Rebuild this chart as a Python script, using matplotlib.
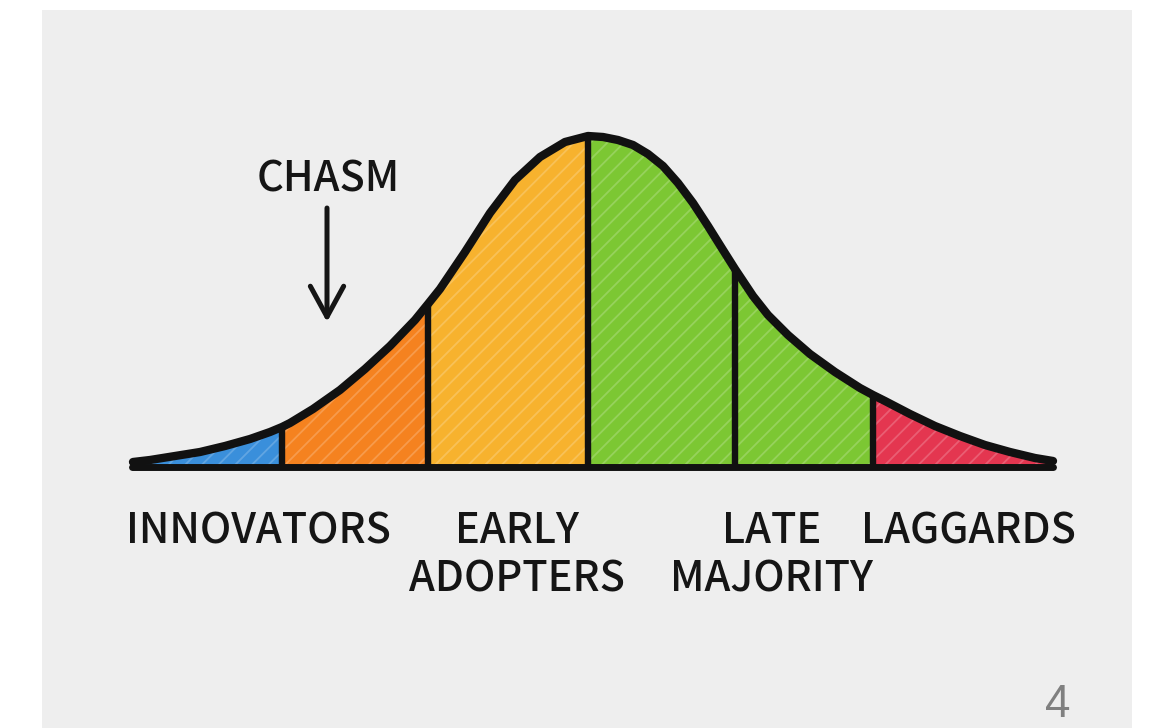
import matplotlib
matplotlib.use("Agg")
import matplotlib.pyplot as plt
import matplotlib.colors as mcolors
import numpy as np

# ---- data (x = horizontal position, h = curve height above baseline) ----
curve_x = [133, 150, 175, 200, 225, 250, 270, 282, 290, 313, 340, 365, 390, 415, 428,
           440, 465, 490, 515, 540, 565, 588, 603, 618, 633, 648, 663, 678, 693, 708,
           723, 735, 753, 768, 788, 810, 835, 860, 873, 885, 910, 935, 960, 985, 1010,
           1035, 1053]
curve_h = [5, 7, 11, 15, 21, 28, 35, 40, 44, 58, 77, 98, 121, 147, 163,
           178, 215, 254, 287, 310, 325, 331, 330, 327, 322, 313, 301, 284, 264, 241,
           217, 198, 171, 152, 132, 113, 95, 79, 72, 66, 53, 41, 31, 22, 15,
           9, 6]
segment_bounds = [133, 282, 428, 588, 735, 873, 1053]
segment_colors = ["#3a8fdb", "#f5821f", "#f7b22e", "#7cc733", "#7cc733", "#e43650"]
group_labels = ["INNOVATORS", "EARLY\nADOPTERS", "LATE\nMAJORITY", "LAGGARDS"]
group_label_x = [258, 517, 772, 968]
chasm_label = "CHASM"
chasm_x = 328
page_number = "4"

# ---- figure ----
W, H = 1153, 728
base = 467
fig = plt.figure(figsize=(W / 100, H / 100), dpi=100)
fig.patch.set_facecolor("white")
ax = fig.add_axes([0, 0, 1, 1])
ax.set_xlim(0, W)
ax.set_ylim(base - H, base)
ax.axis("off")

# textured-paper panel (flat approximation)
ax.add_patch(plt.Rectangle((42, base - H), 1090, H - 10, facecolor="#eeeeee",
                           edgecolor="none", zorder=0))

cx = np.array(curve_x, dtype=float)
ch = np.array(curve_h, dtype=float)

plt.rcParams["hatch.linewidth"] = 1.3
for (a, b), col in zip(zip(segment_bounds[:-1], segment_bounds[1:]), segment_colors):
    m = (cx >= a) & (cx <= b)
    light = mcolors.to_rgba(np.array(mcolors.to_rgb(col)) * 0.6 + 0.4, 0.5)
    ax.fill_between(cx[m], 0, ch[m], facecolor=col, edgecolor=light,
                    linewidth=0, hatch="//", zorder=2)

# dividers
for b in segment_bounds[1:-1]:
    hb = ch[cx == b][0]
    ax.plot([b, b], [0, hb], color="#111111", lw=4.6, solid_capstyle="butt", zorder=3)

# baseline and curve
ax.plot([segment_bounds[0] - 1, segment_bounds[-1]], [0, 0], color="#111111", lw=5.0,
        solid_capstyle="round", zorder=4)
ax.plot(cx, ch, color="#111111", lw=6.0, solid_capstyle="round",
        solid_joinstyle="round", zorder=5)

# labels
fam = ["Noto Sans CJK JP", "DejaVu Sans"]
lab_kw = dict(fontsize=36, family=fam, weight="medium", color="#151515",
              ha="center", va="baseline", zorder=6)
texts = []
for lab, x in zip(group_labels, group_label_x):
    lines = lab.split("\n")
    for i, ln in enumerate(lines):
        texts.append(ax.text(x, base - 543 - i * 48, ln, **lab_kw))
texts.append(ax.text(chasm_x, base - 192, chasm_label, **lab_kw))

# fit the label size so that INNOVATORS spans the same width as in the reference
fig.canvas.draw()
r = fig.canvas.get_renderer()
w0 = texts[0].get_window_extent(r).width
size = 36 * 265.0 / w0
for t in texts:
    t.set_fontsize(size)

ax.annotate("", xy=(chasm_x - 1, base - 322), xytext=(chasm_x - 1, base - 208),
            arrowprops=dict(arrowstyle="->,head_length=1.1,head_width=0.6",
                            mutation_scale=20, lw=3.6, color="#151515",
                            shrinkA=0, shrinkB=0, capstyle="round", joinstyle="round"),
            zorder=6)

ax.text(1058, base - 727, page_number, fontsize=33, family=["Liberation Sans", "DejaVu Sans"],
        color="#808080", ha="center", va="bottom", zorder=6)

fig.savefig("out.png", dpi=100, facecolor="white")
